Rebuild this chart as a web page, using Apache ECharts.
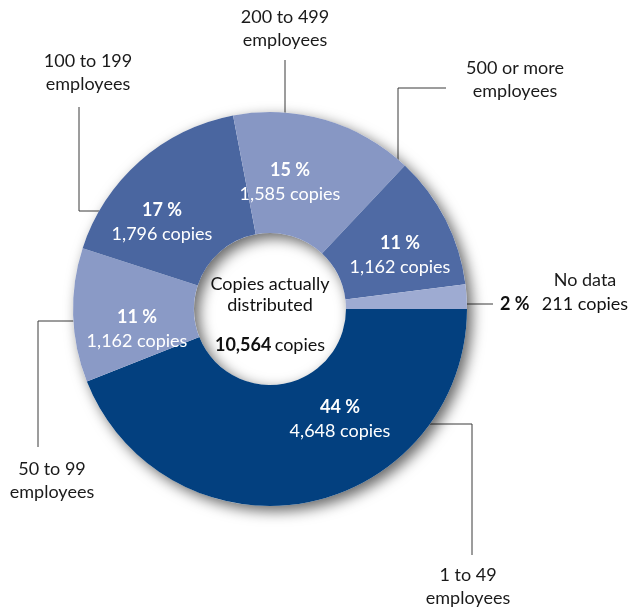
<!DOCTYPE html>
<html><head><meta charset="utf-8">
<script src="https://cdn.jsdelivr.net/npm/echarts@6/dist/echarts.min.js"></script>
<style>html,body{margin:0;padding:0;background:#fff}#c{width:633px;height:609px}</style>
</head><body><div id="c"></div>
<script>
// ---- data ----
const categories = ['1 to 49\nemployees', '50 to 99\nemployees', '100 to 199\nemployees', '200 to 499\nemployees', '500 or more\nemployees', 'No data'];
const copies = [4648, 1162, 1796, 1585, 1162, 211];
const centerTitle = 'Copies actually\ndistributed';
const unitLabel = 'copies';

// ---- styling / layout (not data) ----
const colors = ['#03407f', '#8a9ac6', '#4a66a0', '#8797c4', '#4f6aa4', '#9eabd2'];
const FONT = 'Lato';
const CX = 270, CY = 309;
const innerLabelPos = [[340, 419], [137, 329], [162, 222], [290, 182], [400, 255], [500, 304]];
const outerLabelPos = [[468, 587], [52, 481], [88, 73], [285, 29], [515, 80], [585, 280]];
const leaderLines = [
  [[472, 555], [472, 424], [395, 424]],
  [[38, 447], [38, 321], [90, 321]],
  [[79, 107], [79, 211], [131, 211]],
  [[285, 60], [285, 105], [285, 149]],
  [[446, 88], [398, 88], [398, 218]],
  [[450, 304], [471, 304], [493, 304]]
];

const total = copies.reduce((a, b) => a + b, 0);
const fmt = n => String(n).replace(/\B(?=(\d{3})+(?!\d))/g, ',');
const pct = v => Math.round(v / total * 100) + ' %';

const chart = echarts.init(document.getElementById('c'), null, {renderer: 'canvas'});
const pieData = copies.map((v, i) => ({value: v, name: categories[i], itemStyle: {color: colors[i]}}));

chart.setOption({
  animation: false,
  backgroundColor: '#ffffff',
  series: [
    {
      type: 'pie', radius: [76, 197], center: [CX, CY], silent: true,
      data: [{value: total, itemStyle: {color: '#ffffff', shadowBlur: 14, shadowOffsetX: 5, shadowOffsetY: 5, shadowColor: 'rgba(0,0,0,0.6)'}}],
      label: {show: false}, labelLine: {show: false}
    },
    {
      type: 'pie', radius: [76, 197], center: [CX, CY], startAngle: 0, clockwise: true,
      avoidLabelOverlap: false, silent: true,
      itemStyle: {borderWidth: 0},
      data: pieData,
      label: {
        show: true, position: 'inside', fontFamily: FONT,
        formatter: p => p.dataIndex === 5
          ? '{pd|' + pct(p.value) + '}    {cd|' + fmt(p.value) + ' ' + unitLabel + '}'
          : '{p|' + pct(p.value) + '}\n{c|' + fmt(p.value) + ' ' + unitLabel + '}',
        rich: {
          p: {color: '#ffffff', fontWeight: 'bold', fontSize: 18, lineHeight: 24, fontFamily: FONT},
          c: {color: '#ffffff', fontSize: 18, lineHeight: 24, fontFamily: FONT},
          pd: {color: '#111111', fontWeight: 'bold', fontSize: 18, lineHeight: 24, fontFamily: FONT},
          cd: {color: '#111111', fontSize: 18, lineHeight: 24, fontFamily: FONT}
        }
      },
      labelLine: {show: false},
      labelLayout: p => {
        const pos = innerLabelPos[p.dataIndex];
        return {x: pos[0], y: pos[1], align: p.dataIndex === 5 ? 'left' : 'center', verticalAlign: 'middle'};
      }
    },
    {
      type: 'pie', radius: [76, 197], center: [CX, CY], startAngle: 0, clockwise: true,
      avoidLabelOverlap: false, silent: true,
      itemStyle: {color: 'rgba(0,0,0,0)', borderWidth: 0},
      data: copies.map((v, i) => ({value: v, name: categories[i]})),
      label: {show: true, position: 'outside', formatter: '{b}', color: '#1a1a1a', fontSize: 18, lineHeight: 23, fontFamily: FONT},
      labelLine: {show: true, smooth: false, lineStyle: {color: '#3a3a3a', width: 1}},
      labelLayout: p => {
        const pos = outerLabelPos[p.dataIndex];
        return {x: pos[0], y: pos[1], align: 'center', verticalAlign: 'middle', labelLinePoints: leaderLines[p.dataIndex]};
      }
    }
  ],
  graphic: [
    {type: 'text', x: CX, y: 295, z: 100, style: {text: centerTitle, align: 'center', verticalAlign: 'middle', fontSize: 18, lineHeight: 21, fontFamily: FONT, fill: '#111111'}},
    {type: 'text', x: CX, y: 345, z: 100, style: {
      text: '{b|' + fmt(total) + '} {n|' + unitLabel + '}', align: 'center', verticalAlign: 'middle',
      rich: {b: {fontWeight: 'bold', fontSize: 18, fontFamily: FONT, fill: '#111111'}, n: {fontSize: 18, fontFamily: FONT, fill: '#111111'}}
    }}
  ]
});
</script>
</body></html>
